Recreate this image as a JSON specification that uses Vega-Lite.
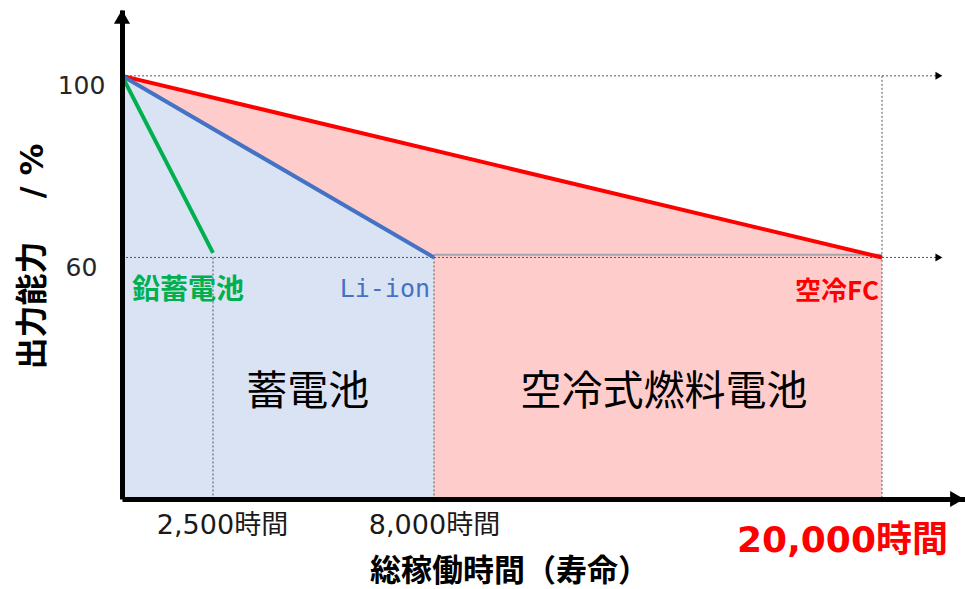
{
  "$schema": "https://vega.github.io/schema/vega-lite/v6.json",
  "width": 843,
  "height": 489,
  "autosize": {"type": "none"},
  "padding": {"left": 122, "top": 10, "right": 0, "bottom": 90},
  "background": "white",
  "config": {"view": {"stroke": null}, "font": "DejaVu Sans, Noto Sans CJK JP"},
  "datasets": {
    "fc": [{"hours": 0, "output": 100, "output2": 6.8}, {"hours": 20000, "output": 60, "output2": 6.8}],
    "battery": [{"hours": 0, "output": 100, "output2": 6.8}, {"hours": 8000, "output": 60, "output2": 6.8}],
    "guides": [
      {"hours": 0, "hours2": 21400, "output": 100, "output2": 100},
      {"hours": 0, "hours2": 21400, "output": 60, "output2": 60},
      {"hours": 2500, "hours2": 2500, "output": 60, "output2": 6.8},
      {"hours": 8000, "hours2": 8000, "output": 60, "output2": 6.8},
      {"hours": 20000, "hours2": 20000, "output": 100, "output2": 6.8}
    ],
    "grayline": [{"hours": 8000, "hours2": 20000, "output": 60.6, "output2": 60.6}],
    "curves": [
      {"series": "空冷FC", "hours": 0, "output": 100},
      {"series": "空冷FC", "hours": 20000, "output": 60},
      {"series": "Li-ion", "hours": 0, "output": 100},
      {"series": "Li-ion", "hours": 8000, "output": 60},
      {"series": "鉛蓄電池", "hours": 0, "output": 100},
      {"series": "鉛蓄電池", "hours": 2500, "output": 61}
    ],
    "yarrow": [{"hours": 0, "output": 113}],
    "xarrow": [{"hours": 21900, "output": 6.8}],
    "guidearrows": [{"hours": 21440, "output": 100}, {"hours": 21440, "output": 60}],
    "leadLabel": [{"series": "鉛蓄電池", "hours": 0, "output": 52.6}],
    "liLabel": [{"series": "Li-ion", "hours": 8000, "output": 53.0}],
    "fcLabel": [{"series": "空冷FC", "hours": 20000, "output": 52.4}],
    "regions": [
      {"label": "蓄電池", "hours": 4860, "output": 30.2},
      {"label": "空冷式燃料電池", "hours": 14160, "output": 30.2}
    ]
  },
  "encoding": {
    "x": {
      "field": "hours",
      "type": "quantitative",
      "scale": {"domain": [0, 2500, 8000, 20000, 22100], "range": [0, 91, 312, 760, 843], "nice": false, "zero": false},
      "axis": {
        "title": "総稼働時間（寿命）",
        "values": [2500, 8000, 20000],
        "labelExpr": "format(datum.value, ',') + '時間'",
        "zindex": 1,
        "ticks": false,
        "tickSize": 0,
        "grid": false,
        "domainColor": "black",
        "domainWidth": 5,
        "labelFont": "DejaVu Sans, Noto Sans CJK JP",
        "labelBaseline": "middle",
        "labelAlign": "center",
        "labelFlush": false,
        "labelOverlap": false,
        "labelBound": false,
        "labelLimit": 0,
        "labelFontSize": {"condition": {"test": "datum.value == 20000", "value": 36}, "value": 27},
        "labelFontWeight": {"condition": {"test": "datum.value == 20000", "value": "bold"}, "value": "normal"},
        "labelColor": {"condition": {"test": "datum.value == 20000", "value": "#ff0000"}, "value": "#1a1a1a"},
        "labelOffset": {"condition": [{"test": "datum.value == 20000", "value": -40}, {"test": "datum.value == 2500", "value": 9}], "value": 0},
        "labelPadding": {"condition": {"test": "datum.value == 20000", "value": 41}, "value": 26},
        "titleFont": "Noto Sans CJK JP",
        "titleFontSize": 31,
        "titleFontWeight": "bold",
        "titleColor": "black",
        "titleX": 387,
        "titleY": 72,
        "titleAlign": "center",
        "titleBaseline": "middle"
      }
    },
    "y": {
      "field": "output",
      "type": "quantitative",
      "scale": {"domain": [6.8, 114.5], "nice": false, "zero": false},
      "axis": {
        "title": "出力能力　 / %",
        "values": [60, 100],
        "zindex": 1,
        "ticks": false,
        "tickSize": 0,
        "grid": false,
        "domainColor": "black",
        "domainWidth": 5,
        "labelFont": "DejaVu Sans",
        "labelFontSize": 25,
        "labelColor": "#262626",
        "labelAlign": "center",
        "labelBaseline": "middle",
        "labelPadding": 41,
        "labelOffset": 10,
        "titleFont": "DejaVu Sans, Noto Sans CJK JP",
        "titleFontSize": 32,
        "titleFontWeight": "bold",
        "titleColor": "black",
        "titleX": -90,
        "titleY": 246,
        "titleAlign": "center",
        "titleBaseline": "middle"
      }
    }
  },
  "layer": [
    {"data": {"name": "fc"}, "mark": {"type": "area", "color": "#ffcccc", "opacity": 1}, "encoding": {"y2": {"field": "output2"}}},
    {"data": {"name": "battery"}, "mark": {"type": "area", "color": "#dae3f3", "opacity": 1}, "encoding": {"y2": {"field": "output2"}}},
    {
      "data": {"name": "grayline"},
      "mark": {"type": "rule", "color": "#a5a5b0", "strokeWidth": 2},
      "encoding": {"x2": {"field": "hours2"}, "y2": {"field": "output2"}}
    },
    {
      "data": {"name": "guides"},
      "mark": {"type": "rule", "color": "#555555", "strokeWidth": 1, "strokeDash": [2, 2]},
      "encoding": {"x2": {"field": "hours2"}, "y2": {"field": "output2"}}
    },
    {
      "data": {"name": "curves"},
      "mark": {"type": "line", "strokeWidth": 4},
      "encoding": {
        "color": {
          "field": "series",
          "type": "nominal",
          "scale": {"domain": ["鉛蓄電池", "Li-ion", "空冷FC"], "range": ["#00b050", "#4472c4", "#ff0000"]},
          "legend": null
        }
      }
    },
    {"data": {"name": "yarrow"}, "mark": {"type": "point", "shape": "triangle-up", "filled": true, "color": "black", "size": 260, "opacity": 1}},
    {"data": {"name": "xarrow"}, "mark": {"type": "point", "shape": "triangle-right", "filled": true, "color": "black", "size": 260, "opacity": 1}},
    {"data": {"name": "guidearrows"}, "mark": {"type": "point", "shape": "triangle-right", "filled": true, "color": "black", "size": 64, "opacity": 1}},
    {
      "data": {"name": "leadLabel"},
      "mark": {"type": "text", "align": "left", "baseline": "middle", "dx": 10, "font": "Noto Sans CJK JP", "fontSize": 28, "fontWeight": "bold"},
      "encoding": {
        "text": {"field": "series"},
        "color": {"field": "series", "type": "nominal", "scale": {"domain": ["鉛蓄電池", "Li-ion", "空冷FC"], "range": ["#00b050", "#4472c4", "#ff0000"]}, "legend": null}
      }
    },
    {
      "data": {"name": "liLabel"},
      "mark": {"type": "text", "align": "right", "baseline": "middle", "dx": -4, "font": "DejaVu Sans Mono", "fontSize": 25},
      "encoding": {
        "text": {"field": "series"},
        "color": {"field": "series", "type": "nominal", "scale": {"domain": ["鉛蓄電池", "Li-ion", "空冷FC"], "range": ["#00b050", "#4472c4", "#ff0000"]}, "legend": null}
      }
    },
    {
      "data": {"name": "fcLabel"},
      "mark": {"type": "text", "align": "right", "baseline": "middle", "dx": -3, "font": "Noto Sans CJK JP", "fontSize": 26, "fontWeight": "bold"},
      "encoding": {
        "text": {"field": "series"},
        "color": {"field": "series", "type": "nominal", "scale": {"domain": ["鉛蓄電池", "Li-ion", "空冷FC"], "range": ["#00b050", "#4472c4", "#ff0000"]}, "legend": null}
      }
    },
    {
      "data": {"name": "regions"},
      "mark": {"type": "text", "align": "center", "baseline": "middle", "font": "Noto Sans CJK JP", "fontSize": 41, "color": "black"},
      "encoding": {"text": {"field": "label"}}
    }
  ]
}
